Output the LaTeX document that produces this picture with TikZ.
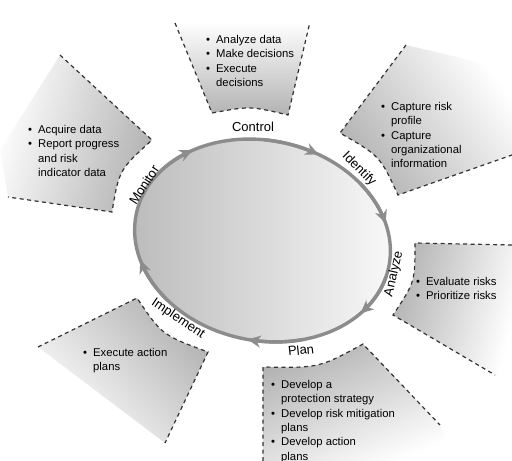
\documentclass[tikz,border=0pt]{standalone}
\usepackage{fontspec}
\setmainfont{Liberation Sans}
\usetikzlibrary{arrows.meta}

\tikzset{
  panel/.style={draw=none, top color=white, bottom color=black!30},
  edge/.style={draw=black!80, line width=1.2pt, dash pattern=on 4pt off 3.5pt},
  ringline/.style={draw=black!45, line width=3.4pt},
  ringtip/.style={draw=black!45, line width=3.4pt,
    -{Stealth[length=13pt,width=12pt,inset=4pt,fill=black!35]}},
  steplabel/.style={font=\fontsize{13}{15}\selectfont, inner sep=0pt},
  bullets/.style={font=\fontsize{11.3}{14.4}\selectfont, align=left,
    anchor=north west, inner sep=0pt},
}
\newcommand\itm{\makebox[10pt][l]{\textbullet}}
\newcommand\cnt{\hspace*{10pt}}

\begin{document}
\begin{tikzpicture}[x=1pt, y=-1pt]
\useasboundingbox (0,0) rectangle (512,461);

% ---- shaded activity panels ----
% Control (top)
\shade[panel, shading angle=0]
  (175,23) -- (212,113) .. controls (250,106) .. (288,115) -- (310,22) -- cycle;
\draw[edge] (175,23) -- (212,113) .. controls (250,106) .. (288,115) -- (310,22);

% Monitor (left)
\shade[panel, shading angle=75]
  (60,55) -- (152,140) .. controls (119,170) .. (112,212) -- (8,197) -- (0,150) -- cycle;
\draw[edge] (60,55) -- (152,140) .. controls (119,170) .. (112,212) -- (8,197);

% Identify (upper right)
\shade[panel, shading angle=-54]
  (406,45) -- (340,133) .. controls (380,156) .. (398,195) -- (512,155) -- (512,70) -- cycle;
\draw[edge] (406,45) -- (340,133) .. controls (380,156) .. (398,195) -- (512,155);

% Analyze (right)
\shade[panel, shading angle=-105]
  (512,245) -- (415,243) .. controls (415,282) .. (393,315) -- (495,375) -- (512,380) -- cycle;
\draw[edge] (512,245) -- (415,243) .. controls (415,282) .. (393,315) -- (495,375);

% Plan (bottom)
\shade[panel, shading angle=-156]
  (263,461) -- (263,367) .. controls (319,368) .. (363,344) -- (440,425) -- (455,461) -- cycle;
\draw[edge] (263,461) -- (263,367) .. controls (319,368) .. (363,344) -- (440,425);

% Implement (lower left)
\shade[panel, shading angle=133]
  (38,347) -- (137,298) .. controls (162,335) .. (208,352) -- (165,443) -- cycle;
\draw[edge] (38,347) -- (137,298) .. controls (162,335) .. (208,352) -- (165,443);

% ---- central cycle ----
\coordinate (c) at (262.5,240.5);
\shade[left color=black!27, right color=black!2, rotate around={-12:(c)}]
  (c) ellipse [x radius=129, y radius=100];
\draw[ringline, rotate around={-12:(c)}] (c) ellipse [x radius=129, y radius=100];

\foreach \tA in {227.5, 286.6, 334.9, 390.6, 447.3, 513.4}
  \draw[ringtip] plot[domain=\tA-25:\tA, samples=15, variable=\s]
    ({262.5+129*cos(\s)*cos(12)-100*sin(\s)*sin(12)},
     {240.5+129*cos(\s)*sin(12)+100*sin(\s)*cos(12)});

% ---- step names around the cycle ----
\node[steplabel] (control) at (253,127) {Control};
\node[steplabel, rotate=-45] (identify) at (359,169) {Identify};
\node[steplabel, rotate=77] (analyze) at (394,274) {Analyze};
\node[steplabel, rotate=6] (plan) at (301,350) {Plan};
\node[steplabel, rotate=-34] (implement) at (178,319) {Implement};
\node[steplabel, rotate=57] (monitor) at (144,185) {Monitor};

% ---- activity lists ----
\node[bullets] (controlitems) at (206,35)
  {\itm Analyze data\\ \itm Make decisions\\ \itm Execute\\ \cnt decisions};
\node[bullets] (monitoritems) at (28,125)
  {\itm Acquire data\\ \itm Report progress\\ \cnt and risk\\ \cnt indicator data};
\node[bullets] (identifyitems) at (381,102)
  {\itm Capture risk\\ \cnt profile\\ \itm Capture\\ \cnt organizational\\ \cnt information};
\node[bullets] (analyzeitems) at (416,277)
  {\itm Evaluate risks\\ \itm Prioritize risks};
\node[bullets] (implementitems) at (83,348)
  {\itm Execute action\\ \cnt plans};
\node[bullets] (planitems) at (271,380)
  {\itm Develop a\\ \cnt protection strategy\\ \itm Develop risk mitigation\\ \cnt plans\\ \itm Develop action\\ \cnt plans};
\end{tikzpicture}
\end{document}
